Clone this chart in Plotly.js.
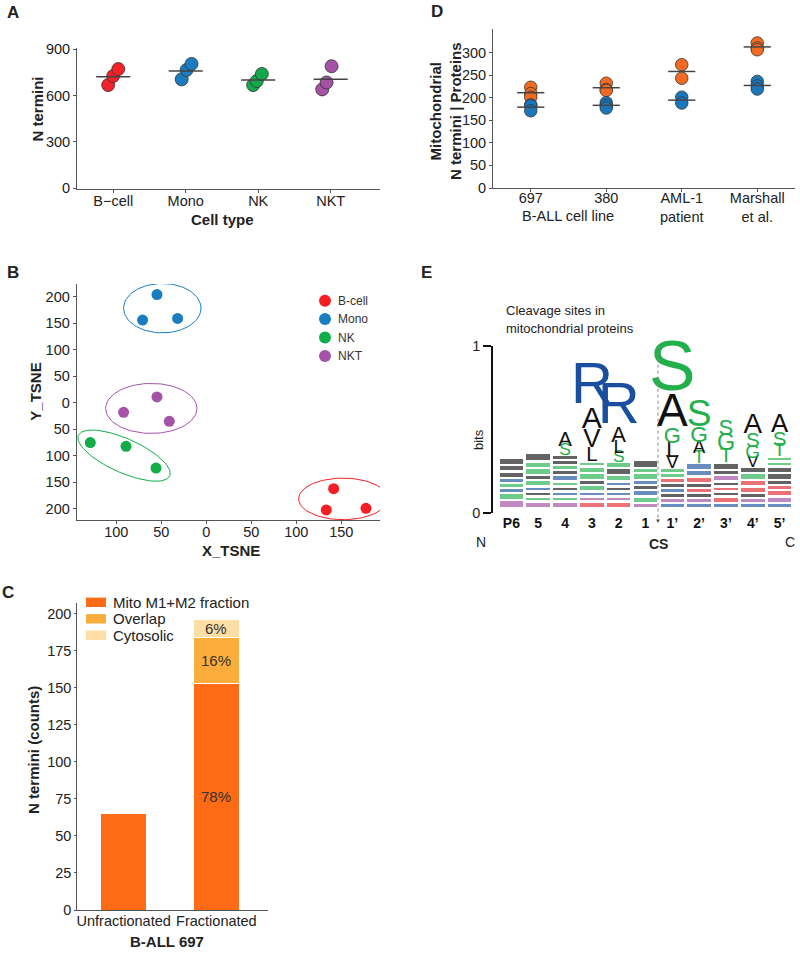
<!DOCTYPE html>
<html><head><meta charset="utf-8">
<script src="https://cdn.plot.ly/plotly-3.0.1.min.js"></script>
<style>html,body{margin:0;padding:0;background:#fff}</style>
</head><body><div id="chart" style="width:800px;height:953px"></div>
<script>
// ---------------- DATA ----------------
// Panel A
const cellTypes = ["B\u2212cell", "Mono", "NK", "NKT"];
const aValues = [[668, 727, 772], [705, 766, 805], [668, 694, 740], [640, 685, 790]];
const aJitter = [[-0.07, 0, 0.07], [-0.056, 0.012, 0.08], [-0.07, -0.02, 0.05], [-0.117, -0.057, 0.012]];
// Panel B
const tsneGroups = ["B-cell", "Mono", "NK", "NKT"];
const tsneX = [[141.5, 133.3, 177.4], [-54.8, -70.8, -31.9], [-128.9, -89.2, -55.9], [-54.8, -91.9, -41.1]];
const tsneY = [[-162, -202, -199], [204, 156, 159], [-75, -82, -123], [11, -18, -35]];
const tsneXTicks = [-100, -50, 0, 50, 100, 150];
const tsneXTickText = ["100", "50", "0", "50", "100", "150"];
const tsneYTicks = [-200, -150, -100, -50, 0, 50, 100, 150, 200];
const tsneYTickText = ["200", "150", "100", "50", "0", "50", "100", "150", "200"];
// Panel C
const cCategories = ["Unfractionated", "Fractionated"];
const cSeries = ["Mito M1+M2 fraction", "Overlap", "Cytosolic"];
const cMito = [65, 153];
const cOverlap = [0, 31];
const cCyto = [0, 12];
// Panel D
const dCategories = ["697", "380", "AML-1<br>patient", "Marshall<br>et al."];
const dNtermini = [[223, 209, 201], [232, 218, 216], [273, 243], [321, 310, 306]];
const dProteins = [[184, 182, 171], [189, 183, 177], [201, 188], [236, 226, 219]];
// Panel E (sequence logo, heights in 0.01 bits)
const logoPositions = ["P6", "5", "4", "3", "2", "1", "1\u2019", "2\u2019", "3\u2019", "4\u2019", "5\u2019"];
const logoNoise = ["w3 p5 g4 b3 g3 b3 k4 k4 k4", "w3 p4 g3 k3 b3 g4 k3 g4 g4 k5", "w3 p4 g3 b3 k3 g3 b4 k3 g3 k3 k3",
  "w3 r4 p3 b3 g4 k3 g4 g4 g3", "w3 r4 p3 b3 k3 b3 g4 k4 g4", "w3 p3 g4 b4 k3 b3 g4 g3 k5",
  "w3 b3 p3 k3 b3 k3 r3 g3 g3", "w3 b3 p3 k3 r3 k3 r4 b4 b4", "w3 b3 r4 k3 r3 k3 p4 k3 k4",
  "w3 b3 p3 k3 r4 r4 g4 k4", "w3 b3 p4 r4 r3 k3 k4 k4 g3 g3"];
const logoLetters = [[], [], [["S", "g", 5], ["A", "k", 7]],
  [["L", "k", 7], ["V", "k", 11], ["A", "k", 13], ["R", "b", 25]],
  [["S", "g", 5], ["L", "k", 6], ["A", "k", 8], ["R", "b", 25]], [],
  [["V", "k", 6], ["L", "k", 8], ["G", "g", 8], ["A", "k", 20], ["S", "g", 30]],
  [["T", "g", 6], ["A", "k", 5.5], ["G", "g", 8.5], ["S", "g", 16]],
  [["T", "g", 7], ["G", "g", 9], ["S", "g", 8]],
  [["V", "k", 5], ["G", "g", 6], ["S", "g", 7], ["A", "k", 12]],
  [["T", "g", 6], ["S", "g", 7], ["A", "k", 11]]];

// ---------------- STYLE ----------------
const W = 800, H = 953;
const FONT = "'Liberation Sans', Arial, sans-serif";
const TICK = 14.5, TITLE = 15;
const px = x => x / W, py = y => 1 - y / H;
const aColors = ["#F2222A", "#1B7CBF", "#13A94A", "#A352A6"];
const tsneColors = ["#F51E24", "#1A7DC0", "#10AD48", "#A553A8"];
const cColors = ["#FF6A14", "#FBAD3B", "#FDDFA6"];
const dColors = {nt: "#F36B21", pr: "#1B77BC"};
const logoColorMap = {g: "#21B04B", k: "#111111", b: "#1A4FA0", r: "#E3262B", p: "#9E4C9E", w: "rgba(0,0,0,0)"};
const mean = a => a.reduce((s, v) => s + v, 0) / a.length;

function axisBase(extra) {
  return Object.assign({showgrid: false, zeroline: false, showline: true, linecolor: '#555', linewidth: 1,
    ticks: 'outside', ticklen: 3, tickcolor: '#555', tickwidth: 1,
    tickfont: {family: FONT, size: TICK, color: '#222'}, fixedrange: true}, extra);
}
function ann(text, x, y, o) {
  o = o || {};
  return {text: text, x: px(x), y: py(y), xref: 'paper', yref: 'paper', showarrow: false,
    xanchor: o.xanchor || 'center', yanchor: o.yanchor || 'middle', textangle: o.angle || 0,
    font: {family: FONT, size: o.size || TITLE, color: o.color || '#222', weight: o.bold ? 'bold' : 'normal'}};
}

const traces = [];
const shapes = [];
const annotations = [];

// ---------------- PANEL A ----------------
cellTypes.forEach((c, i) => {
  traces.push({type: 'scatter', mode: 'markers', xaxis: 'x', yaxis: 'y', hoverinfo: 'skip', cliponaxis: false,
    x: aValues[i].map((v, j) => i + 1 + aJitter[i][j]), y: aValues[i],
    marker: {size: 13, color: aColors[i], line: {color: '#333', width: 0.8}}});
});
(function () {
  const xs = [], ys = [];
  aValues.forEach((v, i) => { const m = mean(v); xs.push(i + 1 - 0.235, i + 1 + 0.235, null); ys.push(m, m, null); });
  traces.push({type: 'scatter', mode: 'lines', xaxis: 'x', yaxis: 'y', x: xs, y: ys, hoverinfo: 'skip',
    line: {color: '#444', width: 1.5}});
})();

// ---------------- PANEL B ----------------
const bXRange = [-144, 193], bYRange = [-221, 224];
const bDomX = [76.7, 380], bDomY = [284, 520];
const sx = (bDomX[1] - bDomX[0]) / (bXRange[1] - bXRange[0]);
const sy = (bDomY[1] - bDomY[0]) / (bYRange[1] - bYRange[0]);
const ellipseStyle = [
  {cx: 152, cy: -181.2, a: 44.5, b: 20.8, ang: 0},
  {cx: -48.9, cy: 178.4, a: 38.7, b: 24.7, ang: 0},
  {cx: -91.4, cy: -99.6, a: 50, b: 17, ang: 24},
  {cx: -61.1, cy: -10.6, a: 45.7, b: 25, ang: 0}];
tsneGroups.forEach((g, i) => {
  const e = ellipseStyle[i], th = e.ang * Math.PI / 180;
  const ex = [], ey = [];
  for (let k = 0; k <= 90; k++) {
    const t = 2 * Math.PI * k / 90;
    const dx = e.a * Math.cos(t) * Math.cos(th) - e.b * Math.sin(t) * Math.sin(th);
    const dy = e.a * Math.cos(t) * Math.sin(th) + e.b * Math.sin(t) * Math.cos(th);
    ex.push(e.cx + dx / sx); ey.push(e.cy - dy / sy);
  }
  traces.push({type: 'scatter', mode: 'lines', xaxis: 'x2', yaxis: 'y2', x: ex, y: ey, hoverinfo: 'skip',
    cliponaxis: false, line: {color: tsneColors[i], width: 1}});
  traces.push({type: 'scatter', mode: 'markers', xaxis: 'x2', yaxis: 'y2', x: tsneX[i], y: tsneY[i],
    hoverinfo: 'skip', cliponaxis: false, marker: {size: 11, color: tsneColors[i]}});
  const ly = 300.7 + i * 18.4;
  shapes.push({type: 'circle', xref: 'paper', yref: 'paper', xsizemode: 'pixel', ysizemode: 'pixel',
    xanchor: px(325), yanchor: py(ly), x0: -6, x1: 6, y0: -6, y1: 6, fillcolor: tsneColors[i], line: {width: 0}});
  annotations.push(ann(g, 336, ly, {xanchor: 'left', size: 12, color: '#333'}));
});

// ---------------- PANEL C ----------------
[cMito, cOverlap, cCyto].forEach((vals, s) => {
  traces.push({type: 'bar', xaxis: 'x3', yaxis: 'y3', x: [0, 1], y: vals, width: 0.49, hoverinfo: 'skip',
    name: cSeries[s], marker: {color: cColors[s], line: {color: '#fff', width: 1}}});
});
(function () {
  const i = 1, parts = [cMito[i], cOverlap[i], cCyto[i]];
  const total = parts.reduce((a, b) => a + b, 0);
  let base = 0;
  parts.forEach(v => {
    annotations.push({text: Math.round(v / total * 100) + '%', x: i, y: base + v / 2, xref: 'x3', yref: 'y3',
      showarrow: false, font: {family: FONT, size: 15, color: '#333'}});
    base += v;
  });
})();
cSeries.forEach((s, i) => {
  const yc = 602.3 + i * 16.5;
  shapes.push({type: 'rect', xref: 'paper', yref: 'paper', x0: px(86), x1: px(106), y0: py(yc - 4.7), y1: py(yc + 4.7),
    fillcolor: cColors[i], line: {width: 0}});
  annotations.push(ann(s, 111, yc, {xanchor: 'left', size: 15}));
});

// ---------------- PANEL D ----------------
[[dNtermini, dColors.nt], [dProteins, dColors.pr]].forEach(([arr, col]) => {
  const xs = [], ys = [];
  arr.forEach((v, i) => v.forEach(val => { xs.push(i + 1); ys.push(val); }));
  traces.push({type: 'scatter', mode: 'markers', xaxis: 'x4', yaxis: 'y4', x: xs, y: ys, hoverinfo: 'skip',
    cliponaxis: false, marker: {size: 12.5, color: col, line: {color: '#333', width: 0.8}}});
});
(function () {
  const xs = [], ys = [];
  [dNtermini, dProteins].forEach(arr => arr.forEach((v, i) => {
    const m = mean(v); xs.push(i + 1 - 0.18, i + 1 + 0.18, null); ys.push(m, m, null);
  }));
  traces.push({type: 'scatter', mode: 'lines', xaxis: 'x4', yaxis: 'y4', x: xs, y: ys, hoverinfo: 'skip',
    line: {color: '#444', width: 1.5}});
})();

// ---------------- PANEL E ----------------
const noiseSegs = logoNoise.map(s => s.split(' ').map(t => ({c: t[0], h: parseFloat(t.slice(1)) / 100})));
const maxSeg = Math.max(...noiseSegs.map(s => s.length));
for (let L = 0; L < maxSeg; L++) {
  traces.push({type: 'bar', xaxis: 'x5', yaxis: 'y5', x: logoPositions.map((p, i) => i),
    y: noiseSegs.map(s => s[L] ? s[L].h : 0), width: 0.96, hoverinfo: 'skip',
    marker: {color: noiseSegs.map(s => s[L] ? logoColorMap[s[L].c] : 'rgba(0,0,0,0)'), opacity: 0.65,
      line: {color: '#fff', width: 2.2}}});
}
const eDomY = [346, 513.3];
const pxPerBit = eDomY[1] - eDomY[0];
(function () {
  const xs = [], ys = [], tx = [], sz = [], cl = [];
  logoLetters.forEach((col, i) => {
    let base = noiseSegs[i].reduce((a, s) => a + s.h, 0);
    col.forEach(([ch, c, h]) => {
      const hb = h / 100;
      const s = hb * pxPerBit / 0.72;
      xs.push(i); ys.push(base + hb / 2); tx.push(ch);
      sz.push(Math.max(s, Math.sqrt(26 * s))); cl.push(logoColorMap[c]);
      base += hb;
    });
  });
  traces.push({type: 'scatter', mode: 'text', xaxis: 'x5', yaxis: 'y5', x: xs, y: ys, text: tx,
    textposition: 'middle center', cliponaxis: false, hoverinfo: 'skip',
    textfont: {family: FONT, size: sz, color: cl}});
})();
shapes.push({type: 'line', xref: 'paper', yref: 'paper', x0: px(658), x1: px(658), y0: py(346.7), y1: py(519),
  line: {color: '#888', width: 1, dash: 'dot'}});
annotations.push(ann('\u25BC', 658, 521, {size: 6, color: '#444'}));

// ---------------- TEXT ----------------
annotations.push(ann('A', 13, 13, {size: 17, bold: true}));
annotations.push(ann('B', 13, 272.5, {size: 17, bold: true}));
annotations.push(ann('C', 8, 592.5, {size: 17, bold: true}));
annotations.push(ann('D', 437, 12, {size: 17, bold: true}));
annotations.push(ann('E', 427, 272.5, {size: 17, bold: true}));
annotations.push(ann('N termini', 37.5, 109, {angle: -90, bold: true}));
annotations.push(ann('Cell type', 222.5, 220, {bold: true}));
annotations.push(ann('Mitochondrial<br>N termini | Proteins', 445, 111, {angle: -90, bold: true}));
annotations.push(ann('B-ALL cell line', 568, 216, {size: TICK}));
annotations.push(ann('Y_TSNE', 36, 391.7, {angle: -90, bold: true}));
annotations.push(ann('X_TSNE', 231, 550, {bold: true}));
annotations.push(ann('N termini (counts)', 33, 750, {angle: -90, bold: true}));
annotations.push(ann('B-ALL 697', 166.7, 941.7, {bold: true}));
annotations.push(ann('Cleavage sites in', 504, 310.7, {xanchor: 'left', size: 13}));
annotations.push(ann('mitochondrial proteins', 504, 329, {xanchor: 'left', size: 13}));
annotations.push(ann('bits', 479, 440, {angle: -90, size: 13}));
annotations.push(ann('N', 481, 541.7, {size: 14}));
annotations.push(ann('CS', 658.7, 544.3, {bold: true, size: 14}));
annotations.push(ann('C', 790, 541.7, {size: 14}));

// ---------------- LAYOUT ----------------
const layout = {
  width: W, height: H, margin: {l: 0, r: 0, t: 0, b: 0}, paper_bgcolor: '#fff', plot_bgcolor: 'rgba(0,0,0,0)',
  showlegend: false, barmode: 'stack', font: {family: FONT, size: 14, color: '#222'},
  xaxis: axisBase({domain: [px(77), px(380)], range: [0.5, 4.68], anchor: 'y', tickvals: [1, 2, 3, 4], ticktext: cellTypes, ticklabelstandoff: -4}),
  yaxis: axisBase({domain: [py(189), py(47.7)], range: [-5, 910], anchor: 'x', tickvals: [0, 300, 600, 900]}),
  xaxis2: axisBase({domain: [px(bDomX[0]), px(bDomX[1])], range: bXRange, anchor: 'y2', tickvals: tsneXTicks, ticktext: tsneXTickText, ticklabelstandoff: -4}),
  yaxis2: axisBase({domain: [py(bDomY[1]), py(bDomY[0])], range: bYRange, anchor: 'x2', tickvals: tsneYTicks, ticktext: tsneYTickText}),
  xaxis3: axisBase({domain: [px(77.3), px(268.3)], range: [-0.5, 1.56], anchor: 'y3', tickvals: [0, 1], ticktext: cCategories, ticks: '', ticklabelstandoff: -2}),
  yaxis3: axisBase({domain: [py(910), py(603.3)], range: [0, 207], anchor: 'x3', tickvals: [0, 25, 50, 75, 100, 125, 150, 175, 200], ticklen: 2}),
  xaxis4: axisBase({domain: [px(493), px(795)], range: [0.5, 4.5], anchor: 'y4', tickvals: [1, 2, 3, 4], ticktext: dCategories, ticklabelstandoff: -6}),
  yaxis4: axisBase({domain: [py(188), py(29)], range: [0, 352], anchor: 'x4', tickvals: [0, 50, 100, 150, 200, 250, 300]}),
  xaxis5: axisBase({domain: [px(493.3), px(793)], range: [-0.675, 10.5], anchor: 'y5', showline: false, ticks: '',
    tickvals: logoPositions.map((p, i) => i), ticktext: logoPositions,
    tickfont: {family: FONT, size: 14, color: '#111', weight: 'bold'}}),
  yaxis5: axisBase({domain: [py(eDomY[1]), py(eDomY[0])], range: [0, 1], anchor: 'x5', linecolor: '#111', linewidth: 2,
    tickcolor: '#111', tickwidth: 2, ticklen: 8, tickvals: [0, 1]}),
  shapes: shapes, annotations: annotations
};
Plotly.newPlot('chart', traces, layout, {staticPlot: true, displayModeBar: false});
</script>
</body></html>
